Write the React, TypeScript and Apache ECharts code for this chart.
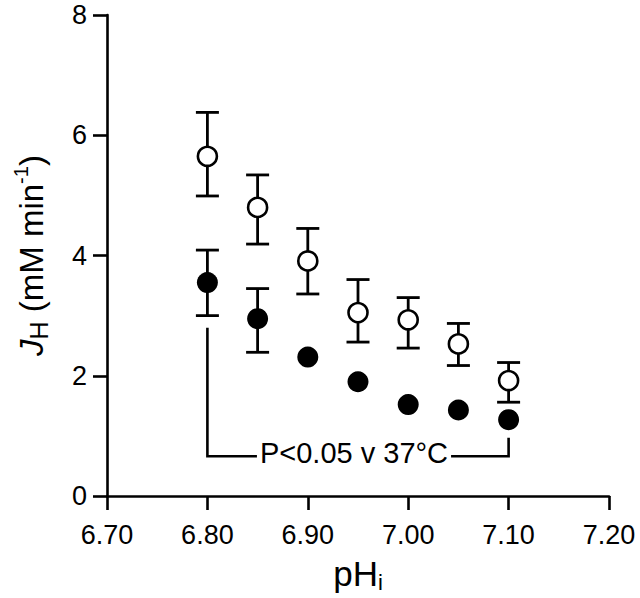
import React, { useEffect, useRef } from "react";
import * as echarts from "echarts";

// pHi values
const phValues = [6.8, 6.85, 6.9, 6.95, 7.0, 7.05, 7.1];
// open circles (mean, lower and upper error bar ends)
const openMean = [5.65, 4.8, 3.91, 3.05, 2.93, 2.53, 1.92];
const openLow = [4.99, 4.19, 3.36, 2.56, 2.46, 2.17, 1.56];
const openHigh = [6.38, 5.34, 4.45, 3.6, 3.3, 2.87, 2.22];
// filled circles
const filledMean = [3.55, 2.95, 2.31, 1.9, 1.52, 1.43, 1.27];
const filledLow = [3.0, 2.39, null, null, null, null, null];
const filledHigh = [4.09, 3.45, null, null, null, null, null];
// axis ticks
const xTicks = [6.7, 6.8, 6.9, 7.0, 7.1, 7.2];
const yTicks = [0, 2, 4, 6, 8];
// significance bracket
const bracketX = [6.8, 7.1];
const bracketTop = [2.8, 0.97];
const bracketBase = 0.66;
const bracketLabel = "P<0.05 v 37°C";

const FONT = "'Liberation Sans', Arial, Helvetica, sans-serif";

function errorBarRender(params: any, api: any) {
  const x = api.value(0);
  const lo = api.value(1);
  const hi = api.value(2);
  const pLo = api.coord([x, lo]);
  const pHi = api.coord([x, hi]);
  const hw = 11.5;
  const st = { stroke: "#000", lineWidth: 2.8 };
  return {
    type: "group",
    children: [
      { type: "line", shape: { x1: pLo[0], y1: pLo[1], x2: pHi[0], y2: pHi[1] }, style: st },
      { type: "line", shape: { x1: pHi[0] - hw, y1: pHi[1], x2: pHi[0] + hw, y2: pHi[1] }, style: st },
      { type: "line", shape: { x1: pLo[0] - hw, y1: pLo[1], x2: pLo[0] + hw, y2: pLo[1] }, style: st },
    ],
  };
}

export default function App() {
  const ref = useRef<HTMLDivElement>(null);
  useEffect(() => {
    if (!ref.current) return;
    const chart = echarts.init(ref.current, undefined, { renderer: "svg" });
    const openBars = phValues.map((x, i) => [x, openLow[i], openHigh[i]]);
    const filledBars = phValues
      .map((x, i) => [x, filledLow[i], filledHigh[i]])
      .filter((d) => d[1] != null && d[2] != null);
    const axisCommon = {
      axisLine: { show: true, onZero: false, lineStyle: { color: "#000", width: 2.6 } },
      axisTick: { show: true, length: 14, lineStyle: { color: "#000", width: 2.6 } },
      splitLine: { show: false },
    };
    chart.setOption({
      animation: false,
      backgroundColor: "#fff",
      grid: { left: 107, right: 31, top: 15, bottom: 98, containLabel: false },
      xAxis: {
        type: "value",
        min: xTicks[0],
        max: xTicks[xTicks.length - 1],
        interval: 0.1,
        ...axisCommon,
        axisLabel: {
          margin: 25,
          fontSize: 27,
          fontFamily: FONT,
          color: "#000",
          formatter: (v: number) => v.toFixed(2),
        },
        name: "{a|pH}{b|i}",
        nameLocation: "middle",
        nameGap: 57,
        nameTextStyle: {
          color: "#000",
          fontFamily: FONT,
          fontSize: 35,
          lineHeight: 40,
          rich: {
            a: { fontSize: 35, fontFamily: FONT, color: "#000", lineHeight: 40 },
            b: { fontSize: 22, fontFamily: FONT, color: "#000", lineHeight: 26, verticalAlign: "bottom" },
          },
        },
      },
      yAxis: {
        type: "value",
        min: yTicks[0],
        max: yTicks[yTicks.length - 1],
        interval: 2,
        ...axisCommon,
        axisLabel: { margin: 20, fontSize: 27, fontFamily: FONT, color: "#000" },
        name: "{j|J}{h|H} (mM min{s|-1})",
        nameLocation: "middle",
        nameGap: 56,
        nameTextStyle: {
          color: "#000",
          fontFamily: FONT,
          fontSize: 33,
          lineHeight: 40,
          rich: {
            j: { fontSize: 33, fontStyle: "italic", fontFamily: FONT, color: "#000", lineHeight: 40 },
            h: { fontSize: 25, fontFamily: FONT, color: "#000", lineHeight: 28, verticalAlign: "bottom" },
            s: { fontSize: 20, fontFamily: FONT, color: "#000", lineHeight: 22, verticalAlign: "top" },
          },
        },
      },
      series: [
        {
          type: "custom",
          renderItem: errorBarRender,
          data: filledBars,
          encode: { x: 0, y: [1, 2] },
          z: 1,
        },
        {
          type: "custom",
          renderItem: errorBarRender,
          data: openBars,
          encode: { x: 0, y: [1, 2] },
          z: 1,
        },
        {
          type: "scatter",
          data: phValues.map((x, i) => [x, filledMean[i]]),
          symbol: "circle",
          symbolSize: 21,
          itemStyle: { color: "#000", opacity: 1 },
          z: 3,
        },
        {
          type: "scatter",
          data: phValues.map((x, i) => [x, openMean[i]]),
          symbol: "circle",
          symbolSize: 19,
          itemStyle: { color: "#fff", borderColor: "#000", borderWidth: 2.6, opacity: 1 },
          z: 3,
        },
        {
          type: "custom",
          data: [[bracketX[0], bracketTop[0], bracketX[1], bracketTop[1], bracketBase]],
          encode: { x: [0, 2], y: [1, 3] },
          z: 2,
          renderItem: (params: any, api: any) => {
            const x0 = api.value(0);
            const t0 = api.value(1);
            const x1 = api.value(2);
            const t1 = api.value(3);
            const b = api.value(4);
            const p0 = api.coord([x0, t0]);
            const p1 = api.coord([x0, b]);
            const p2 = api.coord([x1, b]);
            const p3 = api.coord([x1, t1]);
            const mid = api.coord([(x0 + x1) / 2, b]);
            return {
              type: "group",
              children: [
                {
                  type: "polyline",
                  shape: { points: [p0, p1, p2, p3] },
                  style: { stroke: "#000", lineWidth: 2.6, fill: "none" },
                },
                {
                  type: "text",
                  style: {
                    text: bracketLabel,
                    x: mid[0] - 4,
                    y: mid[1] - 3,
                    align: "center",
                    verticalAlign: "middle",
                    fontSize: 29,
                    fontFamily: FONT,
                    fill: "#000",
                    backgroundColor: "#fff",
                    padding: [0, 3, 0, 3],
                  },
                },
              ],
            };
          },
        },
      ],
    });
    return () => chart.dispose();
  }, []);
  return (
    <div
      ref={ref}
      style={{ position: "fixed", left: 0, top: 0, width: 640, height: 598, background: "#fff" }}
    />
  );
}
